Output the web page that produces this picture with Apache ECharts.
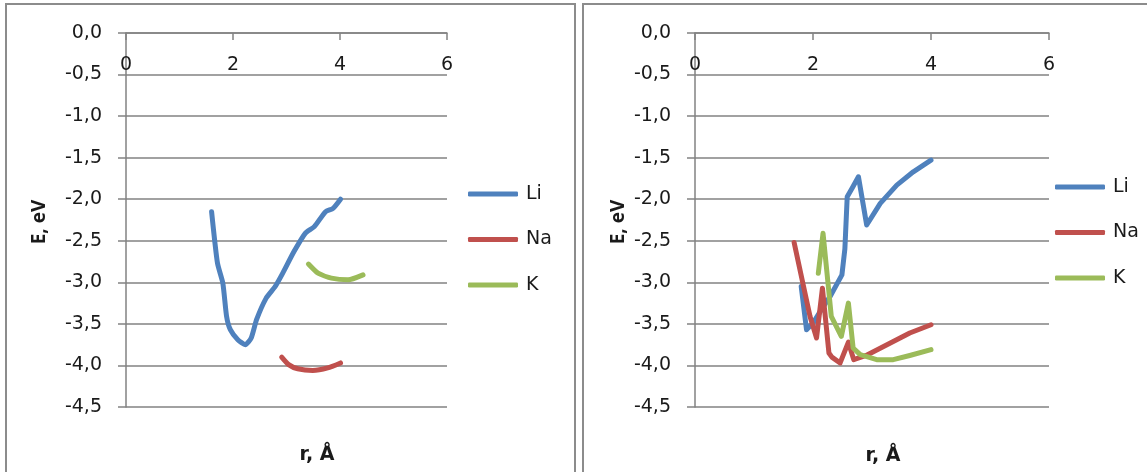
<!DOCTYPE html>
<html>
<head>
<meta charset="utf-8">
<script src="https://cdn.jsdelivr.net/npm/echarts@6/dist/echarts.min.js"></script>
<style>
  html, body { margin: 0; padding: 0; background: #fff; }
  #chart { width: 1147px; height: 472px; }
</style>
</head>
<body>
<div id="chart"></div>
<script>
// left panel (r, E) pairs
const liLeft = [[1.60,-2.15],[1.71,-2.77],[1.81,-3.01],[1.88,-3.41],[1.95,-3.57],[2.09,-3.69],[2.23,-3.75],[2.34,-3.67],[2.44,-3.45],[2.62,-3.19],[2.79,-3.05],[2.93,-2.89],[3.14,-2.63],[3.35,-2.41],[3.52,-2.33],[3.73,-2.15],[3.87,-2.11],[4.01,-2.0]]
const naLeft = [[2.91,-3.90],[3.04,-3.99],[3.21,-4.04],[3.49,-4.06],[3.77,-4.03],[4.01,-3.97]]
const kLeft = [[3.41,-2.78],[3.59,-2.89],[3.84,-2.95],[4.15,-2.97],[4.43,-2.91]]

// right panel
const liRight = [[1.80,-3.05],[1.89,-3.57],[2.00,-3.49],[2.15,-3.32],[2.29,-3.17],[2.49,-2.91],[2.54,-2.60],[2.58,-1.97],[2.66,-1.87],[2.77,-1.73],[2.91,-2.31],[3.14,-2.05],[3.42,-1.83],[3.70,-1.67],[4.00,-1.53]]
const naRight = [[1.68,-2.52],[1.84,-3.05],[1.95,-3.41],[2.06,-3.67],[2.16,-3.07],[2.27,-3.85],[2.32,-3.90],[2.46,-3.97],[2.60,-3.72],[2.69,-3.93],[2.90,-3.88],[3.64,-3.61],[4.00,-3.51]]
const kRight = [[2.09,-2.89],[2.17,-2.41],[2.26,-3.05],[2.31,-3.41],[2.48,-3.65],[2.60,-3.25],[2.68,-3.79],[2.80,-3.87],[3.08,-3.93],[3.36,-3.93],[3.64,-3.88],[4.00,-3.81]]

const seriesNames = ['Li', 'Na', 'K']
const colors = ['#4F81BD', '#C0504D', '#9BBB59']
const xTitle = 'r, Å'
const yTitle = 'E, eV'

const chart = echarts.init(document.getElementById('chart'))
const font = '"DejaVu Sans", sans-serif'
const gridColor = '#828282'

function xAxisFor (idx) {
  return {
    gridIndex: idx,
    type: 'value',
    position: 'top',
    min: 0,
    max: 6,
    interval: 2,
    axisLine: { show: true, onZero: false, lineStyle: { color: gridColor, width: 1.5 } },
    axisTick: { show: true, inside: true, length: 7, lineStyle: { color: gridColor, width: 1.5 } },
    axisLabel: { inside: true, margin: 23, color: '#1a1a1a', fontSize: 19, fontFamily: font },
    splitLine: { show: false }
  }
}

function yAxisFor (idx) {
  return {
    gridIndex: idx,
    type: 'value',
    min: -4.5,
    max: 0,
    interval: 0.5,
    axisLine: { show: true, onZero: false, lineStyle: { color: gridColor, width: 1.5 } },
    axisTick: { show: true, length: 8, lineStyle: { color: gridColor, width: 1.5 } },
    axisLabel: {
      margin: 24,
      color: '#1a1a1a',
      fontSize: 19,
      fontFamily: font,
      formatter: v => (Math.abs(v) < 1e-9 ? 0 : v).toFixed(1).replace('.', ',')
    },
    splitLine: { show: true, lineStyle: { color: gridColor, width: 1.5 } }
  }
}

function line (name, data, idx, color) {
  return {
    name: name,
    type: 'line',
    xAxisIndex: idx,
    yAxisIndex: idx,
    data: data,
    showSymbol: false,
    smooth: idx === 0 ? 0.2 : false,
    lineStyle: { color: color, width: 5, cap: 'round', join: 'round' },
    itemStyle: { color: color },
    animation: false
  }
}

function legendFor (left, top) {
  return {
    orient: 'vertical',
    left: left,
    top: top,
    icon: 'roundRect',
    itemWidth: 50,
    itemHeight: 5,
    itemGap: 25.5,
    data: seriesNames,
    textStyle: { color: '#1a1a1a', fontSize: 19, fontFamily: font, lineHeight: 20, padding: [0, 0, 0, 3] }
  }
}

const yTitleStyle = { fontSize: 19, fontWeight: 'bold', fontFamily: '"Open Sans", sans-serif', fill: '#1a1a1a' }
const xTitleStyle = { fontSize: 19, fontWeight: 'bold', fontFamily: font, fill: '#1a1a1a' }

const option = {
  backgroundColor: '#fff',
  color: colors,
  animation: false,
  grid: [
    { left: 126, top: 33, width: 321, height: 374 },
    { left: 695, top: 33, width: 354, height: 374 }
  ],
  xAxis: [xAxisFor(0), xAxisFor(1)],
  yAxis: [yAxisFor(0), yAxisFor(1)],
  legend: [legendFor(463, 179), legendFor(1050, 172)],
  graphic: [
    { type: 'rect', shape: { x: 6, y: 4, width: 569, height: 480 }, style: { fill: 'none', stroke: '#8c8c8c', lineWidth: 2 }, z: -1 },
    { type: 'rect', shape: { x: 583, y: 4, width: 600, height: 480 }, style: { fill: 'none', stroke: '#8c8c8c', lineWidth: 2 }, z: -1 },
    { type: 'text', x: 40, y: 222, rotation: Math.PI / 2, style: Object.assign({ text: yTitle, align: 'center', verticalAlign: 'middle' }, yTitleStyle) },
    { type: 'text', x: 619, y: 222, rotation: Math.PI / 2, style: Object.assign({ text: yTitle, align: 'center', verticalAlign: 'middle' }, yTitleStyle) },
    { type: 'text', x: 317, y: 455, style: Object.assign({ text: xTitle, align: 'center', verticalAlign: 'middle' }, xTitleStyle) },
    { type: 'text', x: 883, y: 456, style: Object.assign({ text: xTitle, align: 'center', verticalAlign: 'middle' }, xTitleStyle) }
  ],
  series: [
    line('Li', liLeft, 0, colors[0]),
    line('Na', naLeft, 0, colors[1]),
    line('K', kLeft, 0, colors[2]),
    line('Li', liRight, 1, colors[0]),
    line('Na', naRight, 1, colors[1]),
    line('K', kRight, 1, colors[2])
  ]
}

chart.setOption(option)
</script>
</body>
</html>
